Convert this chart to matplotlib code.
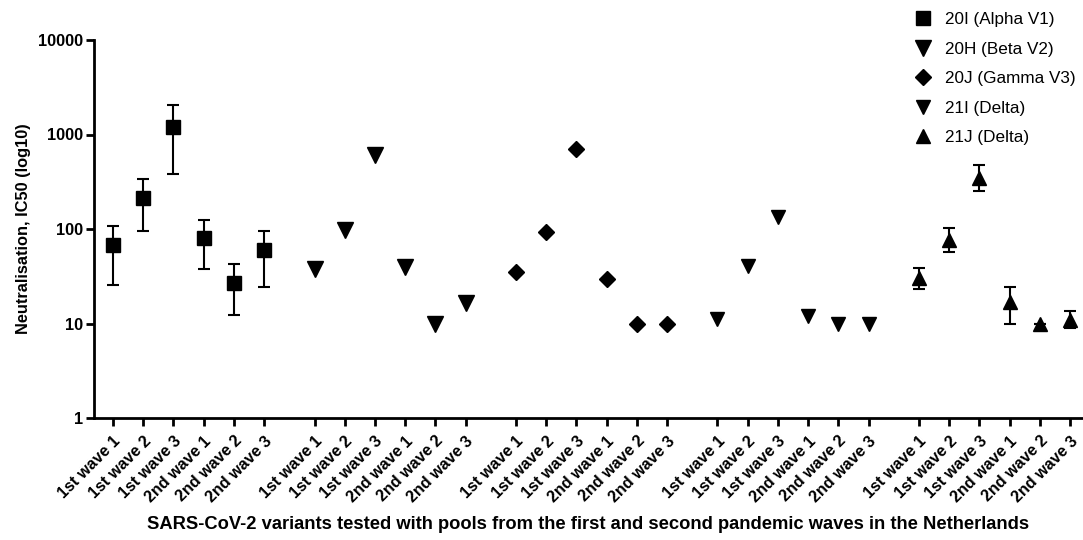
import matplotlib
matplotlib.use("Agg")
import matplotlib.pyplot as plt
from matplotlib.lines import Line2D
import numpy as np

plt.rcParams['font.family'] = ['Liberation Sans', 'DejaVu Sans']

pools = ["1st wave 1", "1st wave 2", "1st wave 3", "2nd wave 1", "2nd wave 2", "2nd wave 3"]
variants = ["20I (Alpha V1)", "20H (Beta V2)", "20J (Gamma V3)", "21I (Delta)", "21J (Delta)"]

alpha_vals = [67, 214, 1200, 80, 27, 60]
alpha_lo = [25.5, 95, 379, 38, 12.3, 24.5]
alpha_hi = [108, 336, 2040, 124, 42.6, 96]

beta_vals = [38, 97, 600, 40, 10, 16.5]
gamma_vals = [35, 92, 700, 29.5, 10, 10]
delta21i_vals = [11.2, 41, 133, 11.9, 10, 10]

delta21j_vals = [30, 77, 350, 16.8, 10, 10.9]
delta21j_lo = [23, 57, 254, 9.8, 10, 8.9]
delta21j_hi = [39, 102, 472, 24.5, 10, 13.5]

series_markers = ['s', 'v', 'D', 'v', '^']
series_sizes = [10, 12, 7.8, 10.5, 10]

W, H = 1083, 540
fig = plt.figure(figsize=(W / 100, H / 100), dpi=100)
ax = fig.add_axes([94 / W, 1 - 418 / H, (W - 94) / W, (418 - 40) / H])

group_step = 6 + 2 / 3
all_vals = [alpha_vals, beta_vals, gamma_vals, delta21i_vals, delta21j_vals]
errs = {0: (alpha_lo, alpha_hi), 4: (delta21j_lo, delta21j_hi)}
xticks, xlabels = [], []
for g, vals in enumerate(all_vals):
    x = g * group_step + np.arange(len(pools))
    xticks.extend(x)
    xlabels.extend(pools)
    if g in errs:
        lo, hi = errs[g]
        v = np.array(vals)
        yerr = np.vstack([v - np.array(lo), np.array(hi) - v])
        ax.errorbar(x, v, yerr=yerr, fmt='none', ecolor='black', elinewidth=1.5,
                    capsize=4, capthick=1.5, zorder=2)
    ax.plot(x, vals, linestyle='none', marker=series_markers[g], ms=series_sizes[g],
            color='black', zorder=3)

ax.set_yscale('log')
ax.set_ylim(1, 10000)
ax.set_xlim(-0.63, 4 * group_step + 5 + 0.43)
ax.set_yticks([1, 10, 100, 1000, 10000])
ax.set_yticklabels(['1', '10', '100', '1000', '10000'])
ax.yaxis.set_minor_locator(matplotlib.ticker.NullLocator())
ax.set_xticks(xticks)
ax.set_xticklabels(xlabels, rotation=45, ha='right', rotation_mode='anchor')

for lab in ax.get_yticklabels():
    lab.set_fontweight('bold')
    lab.set_fontsize(11.8)
for lab in ax.get_xticklabels():
    lab.set_fontweight('bold')
    lab.set_fontsize(11.6)

for s in ['top', 'right']:
    ax.spines[s].set_visible(False)
for s in ['left', 'bottom']:
    ax.spines[s].set_linewidth(2)
ax.tick_params(axis='both', width=2, length=6)
ax.tick_params(axis='x', pad=5)
ax.tick_params(axis='y', pad=2)

ax.set_ylabel('Neutralisation, IC50 (log10)', fontweight='bold', fontsize=11.8, labelpad=5)
ax.set_xlabel('SARS-CoV-2 variants tested with pools from the first and second pandemic waves in the Netherlands',
              fontweight='bold', fontsize=13.2, labelpad=8)

handles = [Line2D([], [], linestyle='none', marker=series_markers[i], ms=series_sizes[i] if i != 2 else 8.5,
                  color='black') for i in range(5)]
fig.legend(handles, variants, loc='upper left', bbox_to_anchor=(895 / W, 1 + 3 / H),
           frameon=False, fontsize=12.3, handletextpad=0.5, labelspacing=0.85,
           handlelength=1.5)

fig.savefig('out.png', dpi=100)
